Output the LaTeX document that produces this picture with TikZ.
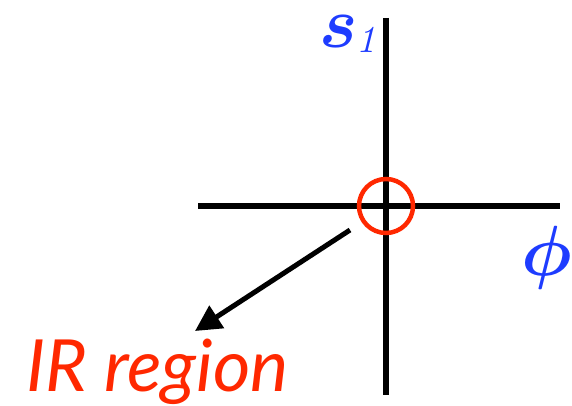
\documentclass[tikz,border=0pt]{standalone}
\usepackage{graphicx}
\usepackage{fontspec}
\newfontfamily\irfont{Lato}
\usetikzlibrary{arrows.meta}
\definecolor{myblue}{RGB}{30,60,255}
\definecolor{myred}{RGB}{255,40,0}
\begin{document}
\begin{tikzpicture}[x=1pt,y=-1pt,
  axis/.style={line width=6pt,black},
  lbl/.style={inner sep=0pt,outer sep=0pt,anchor=base west}]
\useasboundingbox (0,0) rectangle (572,406);
\coordinate (vt) at (386,18);
\coordinate (vb) at (386,395);
\coordinate (hl) at (198,206);
\coordinate (hr) at (560,206);
\draw[axis] (vt) -- (vb);
\draw[axis] (hl) -- (hr);
\node[draw=myred,line width=4.5pt,circle,minimum size=54pt,inner sep=0pt] (ir) at (386,206) {};
\coordinate (as) at (350,230);
\coordinate (ae) at (195,331);
\draw[line width=5pt,-{Triangle[length=26pt,width=26pt]}] (as) -- (ae);
\node[lbl,text=myred] (irl) at (26,391) {\fontsize{72}{76}\selectfont\irfont\itshape IR region};
\node[lbl,text=myblue] (s1) at (319,48) {\scalebox{7.2}{\boldmath$s$}\kern-1pt\raisebox{-5pt}{\scalebox{3.8}{\itshape 1}}};
\node[lbl,text=myblue] (phi) at (521,275) {\scalebox{7.1}{\boldmath$\phi$}};
\end{tikzpicture}
\end{document}
